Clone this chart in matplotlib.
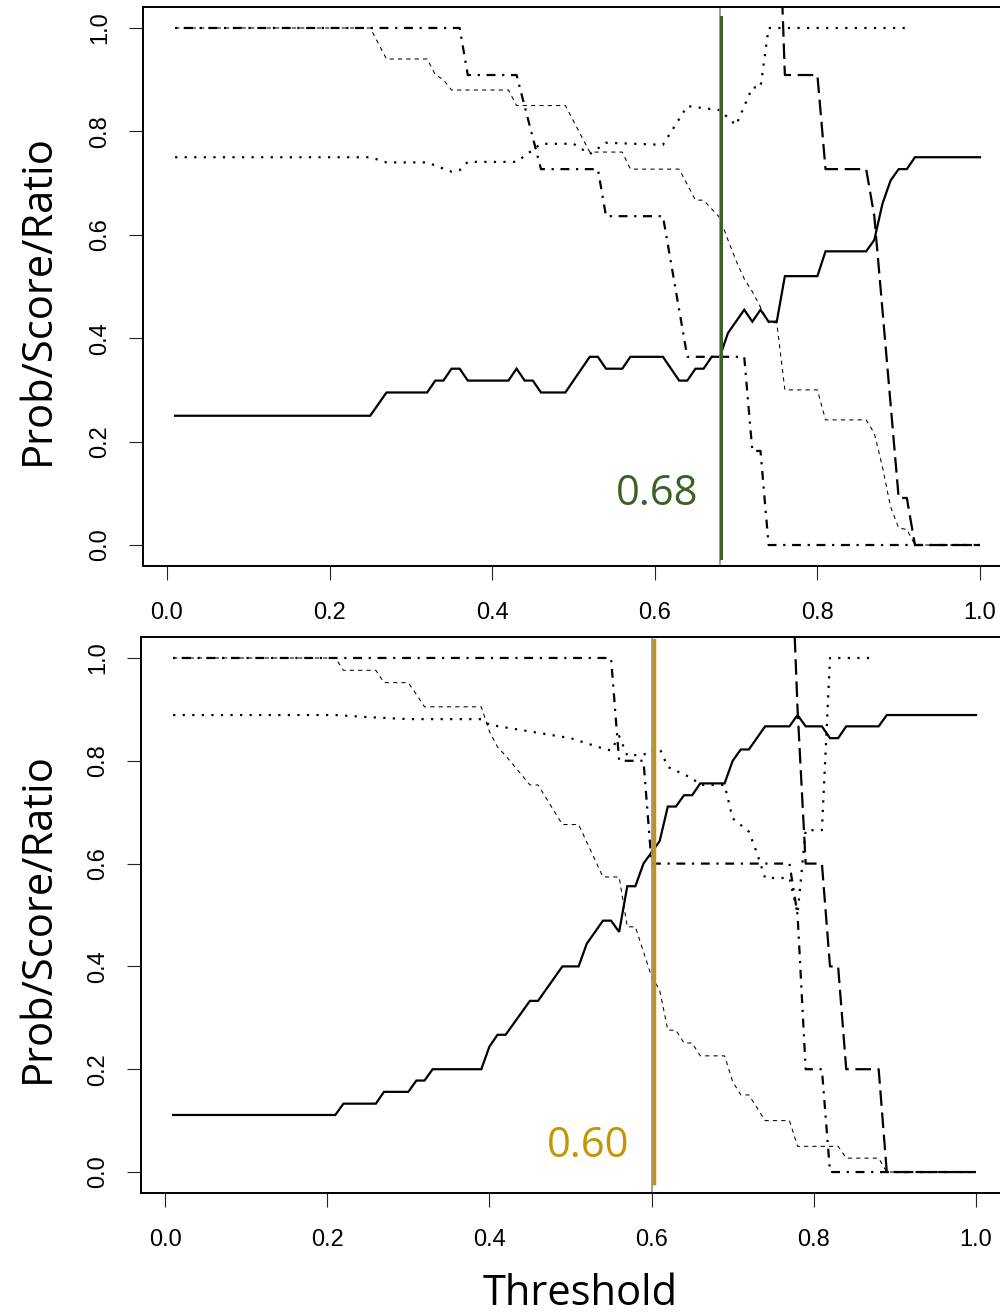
import matplotlib
matplotlib.use("Agg")
import matplotlib.pyplot as plt

# ---- panel A (top), threshold 0.68 ----
a_solid_x = [0.01, 0.25, 0.27, 0.32, 0.33, 0.34, 0.35, 0.36, 0.37, 0.42, 0.43, 0.44, 0.45, 0.46,
             0.49, 0.52, 0.53, 0.54, 0.56, 0.57, 0.61, 0.63, 0.64, 0.65, 0.66, 0.67, 0.68, 0.69,
             0.71, 0.72, 0.73, 0.74, 0.75, 0.76, 0.80, 0.81, 0.86, 0.87, 0.88, 0.89, 0.90, 0.91,
             0.92, 1.00]
a_solid_y = [0.25, 0.25, 0.295, 0.295, 0.318, 0.318, 0.341, 0.341, 0.318, 0.318, 0.341, 0.318,
             0.318, 0.295, 0.295, 0.364, 0.364, 0.341, 0.341, 0.364, 0.364, 0.318, 0.318, 0.341,
             0.341, 0.364, 0.364, 0.41, 0.455, 0.432, 0.455, 0.432, 0.432, 0.52, 0.52, 0.568,
             0.568, 0.59, 0.66, 0.705, 0.727, 0.727, 0.75, 0.75]

a_thin_x = [0.01, 0.25, 0.27, 0.32, 0.33, 0.34, 0.35, 0.42, 0.43, 0.49, 0.52, 0.56, 0.57, 0.63,
            0.65, 0.66, 0.68, 0.69, 0.70, 0.71, 0.72, 0.74, 0.75, 0.76, 0.80, 0.81, 0.86, 0.87,
            0.88, 0.89, 0.90, 0.91, 0.92, 1.00]
a_thin_y = [1.0, 1.0, 0.94, 0.94, 0.91, 0.90, 0.88, 0.88, 0.85, 0.85, 0.76, 0.76, 0.727, 0.727,
            0.667, 0.667, 0.633, 0.59, 0.55, 0.515, 0.49, 0.43, 0.43, 0.30, 0.30, 0.242, 0.242,
            0.216, 0.151, 0.074, 0.033, 0.03, 0.0, 0.0]

a_dot_x = [0.01, 0.25, 0.27, 0.32, 0.35, 0.36, 0.37, 0.43, 0.46, 0.50, 0.52, 0.54, 0.61, 0.64,
           0.68, 0.70, 0.72, 0.73, 0.74, 0.91]
a_dot_y = [0.75, 0.75, 0.74, 0.74, 0.722, 0.725, 0.741, 0.741, 0.776, 0.776, 0.756, 0.778, 0.774,
           0.849, 0.841, 0.812, 0.885, 0.885, 1.0, 1.0]

a_dotdash_x = [0.01, 0.36, 0.37, 0.43, 0.46, 0.53, 0.54, 0.61, 0.64, 0.71, 0.72, 0.73, 0.74, 1.00]
a_dotdash_y = [1.0, 1.0, 0.909, 0.909, 0.727, 0.727, 0.636, 0.636, 0.364, 0.364, 0.182, 0.182,
               0.0, 0.0]

a_long_x = [0.75, 0.76, 0.80, 0.81, 0.86, 0.87, 0.88, 0.89, 0.90, 0.91, 0.92, 1.00]
a_long_y = [1.35, 0.909, 0.909, 0.727, 0.727, 0.636, 0.455, 0.273, 0.091, 0.091, 0.0, 0.0]

# ---- panel B (bottom), threshold 0.60 ----
b_solid_x = [0.01, 0.21, 0.22, 0.26, 0.27, 0.30, 0.31, 0.32, 0.33, 0.39, 0.40, 0.41, 0.42, 0.45,
             0.46, 0.49, 0.51, 0.52, 0.54, 0.55, 0.56, 0.57, 0.58, 0.59, 0.60, 0.61, 0.62, 0.63,
             0.64, 0.65, 0.66, 0.69, 0.70, 0.71, 0.72, 0.74, 0.77, 0.78, 0.79, 0.81, 0.82, 0.83,
             0.84, 0.88, 0.89, 1.00]
b_solid_y = [0.111, 0.111, 0.133, 0.133, 0.156, 0.156, 0.178, 0.178, 0.2, 0.2, 0.244, 0.267,
             0.267, 0.333, 0.333, 0.4, 0.4, 0.444, 0.489, 0.489, 0.467, 0.556, 0.556, 0.6, 0.622,
             0.644, 0.711, 0.711, 0.733, 0.733, 0.756, 0.756, 0.8, 0.822, 0.822, 0.867, 0.867,
             0.889, 0.867, 0.867, 0.844, 0.844, 0.867, 0.867, 0.889, 0.889]

b_thin_x = [0.01, 0.21, 0.22, 0.26, 0.27, 0.30, 0.31, 0.32, 0.39, 0.40, 0.41, 0.42, 0.45, 0.46,
            0.49, 0.51, 0.54, 0.56, 0.57, 0.58, 0.60, 0.61, 0.62, 0.63, 0.64, 0.65, 0.66, 0.69,
            0.70, 0.71, 0.72, 0.74, 0.77, 0.78, 0.83, 0.84, 0.88, 0.89, 1.00]
b_thin_y = [1.0, 1.0, 0.976, 0.976, 0.952, 0.952, 0.929, 0.905, 0.905, 0.857, 0.827, 0.81,
            0.753, 0.753, 0.676, 0.676, 0.574, 0.574, 0.477, 0.477, 0.38, 0.354, 0.276, 0.276,
            0.251, 0.251, 0.226, 0.226, 0.176, 0.15, 0.15, 0.10, 0.10, 0.05, 0.05, 0.027, 0.027,
            0.0, 0.0]

b_dot_x = [0.01, 0.21, 0.25, 0.30, 0.39, 0.40, 0.45, 0.50, 0.54, 0.55, 0.56, 0.57, 0.59, 0.61,
           0.62, 0.65, 0.66, 0.69, 0.70, 0.72, 0.73, 0.74, 0.77, 0.78, 0.79, 0.81, 0.82, 0.87]
b_dot_y = [0.889, 0.889, 0.885, 0.881, 0.881, 0.87, 0.857, 0.844, 0.824, 0.82, 0.848, 0.81,
           0.812, 0.824, 0.788, 0.766, 0.753, 0.753, 0.688, 0.662, 0.62, 0.572, 0.572, 0.503,
           0.665, 0.665, 1.0, 1.0]

b_dotdash_x = [0.01, 0.55, 0.56, 0.59, 0.60, 0.77, 0.78, 0.79, 0.81, 0.82, 1.00]
b_dotdash_y = [1.0, 1.0, 0.8, 0.8, 0.6, 0.6, 0.5, 0.2, 0.2, 0.0, 0.0]

b_long_x = [0.77, 0.78, 0.79, 0.81, 0.82, 0.83, 0.84, 0.88, 0.89, 1.00]
b_long_y = [1.3, 0.9, 0.6, 0.6, 0.4, 0.4, 0.2, 0.2, 0.0, 0.0]

ticks = [0.0, 0.2, 0.4, 0.6, 0.8, 1.0]
tick_labels = ["0.0", "0.2", "0.4", "0.6", "0.8", "1.0"]

cut_a, cut_b = 0.68, 0.60
green = "#3d6026"
gold = "#c59500"

label_font = ["Open Sans", "DejaVu Sans"]
tick_font = ["Liberation Sans", "DejaVu Sans"]

fig = plt.figure(figsize=(10, 13.16), dpi=100)
ax_a = fig.add_axes([0.1429, 0.57014, 0.8693, 0.42432])
ax_b = fig.add_axes([0.1410, 0.09377, 0.8671, 0.42188])

lw = 1.6
def draw_panel(ax, solid, thin, dot, dotdash, longd):
    ax.plot(*thin, color="black", lw=0.75, ls=(0, (4, 4)))
    ax.plot(*dot, color="black", lw=lw, ls=(0, (1, 3.3)))
    ax.plot(*dotdash, color="black", lw=lw, ls=(0, (1, 3, 4, 3)))
    ax.plot(*longd, color="black", lw=lw, ls=(0, (7, 3)))
    ax.plot(*solid, color="black", lw=lw, solid_joinstyle="miter")
    ax.set_xlim(-0.0296, 1.0396)
    ax.set_ylim(-0.04, 1.04)
    ax.set_xticks(ticks)
    ax.set_xticklabels(tick_labels, family=tick_font, fontsize=17)
    ax.set_yticks(ticks)
    ax.set_yticklabels(tick_labels, family=tick_font, fontsize=17, rotation=90, va="center")
    ax.tick_params(axis="both", direction="out", length=10, width=0.8, color="#222222")
    ax.tick_params(axis="x", pad=16)
    ax.tick_params(axis="y", pad=13)
    for s in ax.spines.values():
        s.set_linewidth(1.4)

draw_panel(ax_a, (a_solid_x, a_solid_y), (a_thin_x, a_thin_y), (a_dot_x, a_dot_y),
           (a_dotdash_x, a_dotdash_y), (a_long_x, a_long_y))
draw_panel(ax_b, (b_solid_x, b_solid_y), (b_thin_x, b_thin_y), (b_dot_x, b_dot_y),
           (b_dotdash_x, b_dotdash_y), (b_long_x, b_long_y))

# threshold markers
ax_a.axvline(cut_a, color="#8c8c8c", lw=1.2)
ax_a.axvline(cut_a + 0.0015, ymin=0.014, ymax=0.983, color=green, lw=2.2)
ax_a.text(0.653, 0.077, "%.2f" % cut_a, color=green, fontsize=30, family=label_font,
          ha="right", va="baseline")

ax_b.axvline(cut_b, color="#8c8c8c", lw=1.2)
ax_b.axvline(cut_b + 0.003, ymin=0.017, ymax=0.995, color=gold, lw=2.5)
ax_b.text(0.572, 0.029, "%.2f" % cut_b, color=gold, fontsize=30, family=label_font,
          ha="right", va="baseline")

fig.text(0.038, 0.772, "Prob/Score/Ratio", rotation=90, ha="center", va="center",
         fontsize=30, family=label_font)
fig.text(0.038, 0.3024, "Prob/Score/Ratio", rotation=90, ha="center", va="center",
         fontsize=30, family=label_font)
fig.text(0.58, 0.001, "Threshold", ha="center", va="bottom", fontsize=30, family=label_font)

fig.savefig("out.png", dpi=100)
